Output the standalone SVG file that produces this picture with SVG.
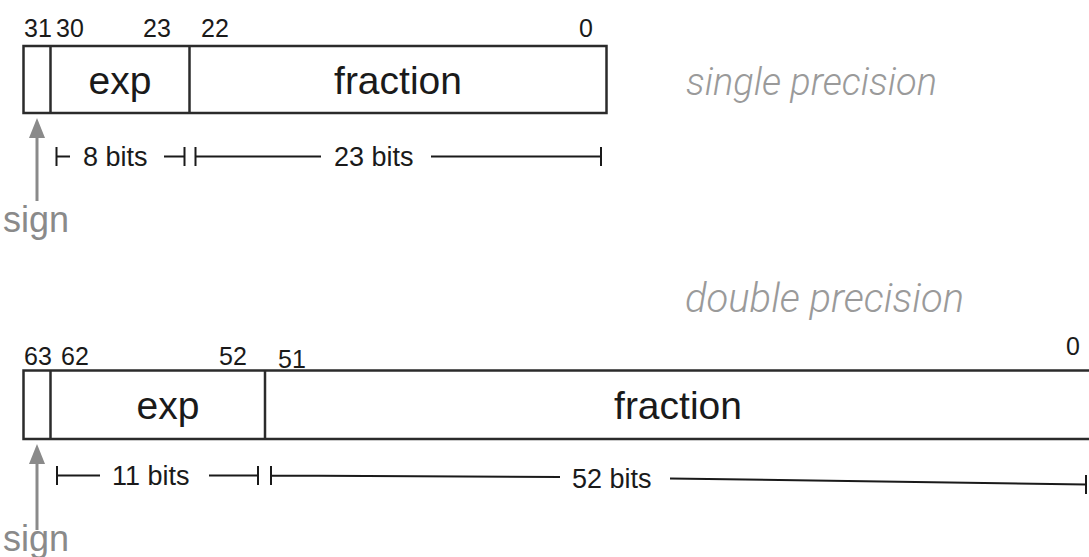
<svg xmlns="http://www.w3.org/2000/svg" width="1089" height="557" viewBox="0 0 1089 557">
<style>
.box{fill:#fff;stroke:#2b2b2b;stroke-width:2.5}
.div{stroke:#2b2b2b;stroke-width:2.5}
.num{font-family:"Liberation Sans",Arial,sans-serif;font-size:25px;fill:#1a1a1a}
.field{font-family:"Liberation Sans",Arial,sans-serif;font-size:39px;fill:#1a1a1a;text-anchor:middle}
.bits{font-family:"Liberation Sans",Arial,sans-serif;font-size:27px;fill:#1a1a1a}
.dim{stroke:#1a1a1a;stroke-width:2;fill:none}
.sign{font-family:"Liberation Sans",Arial,sans-serif;font-size:36px;fill:#8a8a8a}
.title{font-family:Roboto,"Liberation Sans",sans-serif;font-weight:300;font-style:italic;fill:#9a9a9a}
.arr{stroke:#8a8a8a;stroke-width:3}
</style>
<defs>
<marker id="ah" viewBox="0 0 20 16" refX="0" refY="8" markerWidth="20" markerHeight="16" markerUnits="userSpaceOnUse" orient="auto">
<path d="M0,0 L20,8 L0,16 Z" fill="#8a8a8a"/>
</marker>
</defs>

<g id="single">
<g id="single-box">
<rect class="box" x="23.5" y="46" width="583" height="67"/>
<line class="div" x1="50.5" y1="46" x2="50.5" y2="113"/>
<line class="div" x1="189.5" y1="46" x2="189.5" y2="113"/>
<text class="field" x="120" y="94">exp</text>
<text class="field" x="398" y="94">fraction</text>
</g>
<g id="single-labels">
<text class="num" x="24" y="37">31</text>
<text class="num" x="56" y="37">30</text>
<text class="num" x="143" y="37">23</text>
<text class="num" x="201" y="37">22</text>
<text class="num" x="579" y="37">0</text>
</g>
<text class="title" x="686" y="95" font-size="38">single precision</text>
<g id="single-sign">
<text class="sign" x="3" y="232">sign</text>
</g>
</g>

<g id="double">
<g id="double-box">
<path class="box" d="M1095,370.5 H23.5 V439 H1095"/>
<line class="div" x1="50.5" y1="370.5" x2="50.5" y2="439"/>
<line class="div" x1="265" y1="370.5" x2="265" y2="439"/>
<text class="field" x="168" y="419">exp</text>
<text class="field" x="678" y="419">fraction</text>
</g>
<g id="double-labels">
<text class="num" x="24" y="365">63</text>
<text class="num" x="61" y="365">62</text>
<text class="num" x="219" y="365">52</text>
<text class="num" x="278" y="368">51</text>
<text class="num" x="1066" y="355">0</text>
</g>
<text class="title" x="685" y="312" font-size="40">double precision</text>
<g id="double-sign">
<text class="sign" x="3" y="551">sign</text>
</g>
</g>

<g id="connectors">
<line class="arr" x1="37" y1="201" x2="37" y2="138" marker-end="url(#ah)"/>
<line class="arr" x1="37" y1="530" x2="37" y2="464" marker-end="url(#ah)"/>
<path class="dim" d="M56.5,147 V166 M56.5,156.5 H70"/>
<text class="bits" x="83" y="166">8 bits</text>
<path class="dim" d="M164,156.5 H184.5 M184.5,147 V166 M195.5,147 V166 M195.5,156.5 H321"/>
<text class="bits" x="334" y="166">23 bits</text>
<path class="dim" d="M431,156.5 H601 M601,147 V166"/>
<path class="dim" d="M57,466 V485 M57,475.5 H100"/>
<text class="bits" x="112" y="485">11 bits</text>
<path class="dim" d="M209,475.5 H258 M258,466 V485 M271,466 V485 M271,475.5 L560,477"/>
<text class="bits" x="572" y="488">52 bits</text>
<path class="dim" d="M670,478.5 L1086,484.5 M1086,475 V494"/>
</g>
</svg>
